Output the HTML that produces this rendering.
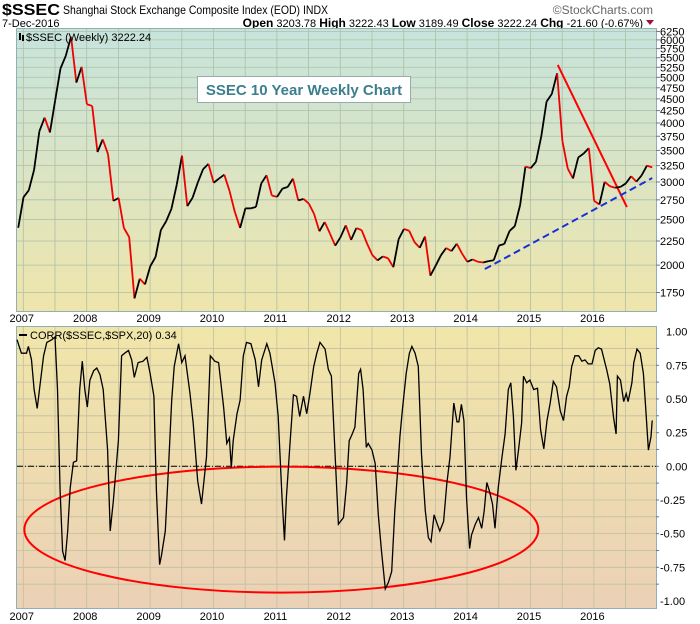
<!DOCTYPE html>
<html><head><meta charset="utf-8"><style>
body{margin:0;background:#fff;}
svg{display:block;font-family:"Liberation Sans",sans-serif;}
</style></head><body>
<svg id="chart" width="700" height="624" viewBox="0 0 700 624">
<defs>
<linearGradient id="gTop" x1="0" y1="0" x2="0" y2="1"><stop offset="0" stop-color="#c6e4dd"/><stop offset="1" stop-color="#efe5ab"/></linearGradient>
<linearGradient id="gBot" x1="0" y1="0" x2="0" y2="1"><stop offset="0" stop-color="#f0e6a9"/><stop offset="1" stop-color="#ebd1b6"/></linearGradient>
</defs>
<g>
<text x="2" y="15" font-size="16" font-weight="bold" textLength="58" lengthAdjust="spacingAndGlyphs">$SSEC</text>
<text x="63" y="14" font-size="12" textLength="265" lengthAdjust="spacingAndGlyphs">Shanghai Stock Exchange Composite Index (EOD)  INDX</text>
<text x="653" y="14" font-size="12" fill="#666" text-anchor="end">©StockCharts.com</text>
<text x="2" y="27" font-size="11">7-Dec-2016</text>
<text x="643" y="27" font-size="11" text-anchor="end"><tspan font-weight="bold" font-size="12">Open</tspan> 3203.78 <tspan font-weight="bold" font-size="12">High</tspan> 3222.43 <tspan font-weight="bold" font-size="12">Low</tspan> 3189.49 <tspan font-weight="bold" font-size="12">Close</tspan> 3222.24 <tspan font-weight="bold" font-size="12">Chg</tspan> -21.60 (-0.67%)</text>
<path d="M646,20 L654,20 L650,25 Z" fill="#a0103a"/>
</g>
<rect x="16.5" y="28.5" width="640" height="283" fill="url(#gTop)" stroke="#8fb0b8"/>
<rect x="16.5" y="326.5" width="640" height="282" fill="url(#gBot)" stroke="#8fb0b8"/>
<g id="grid"></g>
<g id="axes"></g>
<g id="annot"></g>
<g id="series"></g>
<g>
<rect x="19" y="33" width="2" height="7" fill="#000"/><rect x="22" y="35" width="2" height="6" fill="#000"/>
<text x="26" y="41" font-size="11">$SSEC (Weekly) 3222.24</text>
</g>
<g>
<rect x="19" y="334" width="8" height="2" fill="#000"/>
<text x="30" y="339" font-size="11">CORR($SSEC,$SPX,20) 0.34</text>
</g>
<g>
<rect x="197.5" y="76.5" width="213" height="26" fill="#fff" stroke="#9aa"/>
<text x="304" y="95" font-size="15" font-weight="bold" fill="#3b7f8e" text-anchor="middle">SSEC 10 Year Weekly Chart</text>
</g>
</svg>
<script>
const years = [2007,2008,2009,2010,2011,2012,2013,2014,2015,2016];
const priceTicks = [1750,2000,2250,2500,2750,3000,3250,3500,3750,4000,4250,4500,4750,5000,5250,5500,5750,6000,6250];
const corrTicks = [1.00,0.75,0.50,0.25,0.00,-0.25,-0.50,-0.75,-1.00];
const priceStart = 2006.92;
const priceCloses = [2400,
2786,2881,3183,3841,4109,3820,4471,5218,5552,6092,4871,5261,
4383,4348,3472,3693,3433,2736,2775,2397,2293,1700,1871,1821,
1990,2082,2373,2477,2632,2959,3412,2667,2779,2995,3195,3277,
2989,3051,3109,2870,2592,2398,2638,2638,2656,2979,3100,2808,
2790,2905,2928,3050,2743,2762,2701,2567,2359,2468,2333,2199,
2292,2428,2262,2396,2372,2225,2103,2047,2086,2068,1980,2269,
2385,2365,2237,2177,2300,1900,1993,2098,2174,2141,2220,2116,
2033,2056,2033,2026,2039,2048,2201,2217,2363,2420,2683,3234,
3210,3310,3748,4441,4611,5100,3663,3205,3052,3382,3445,3539,
2737,2688,3003,2938,2917,2930,2979,3085,3005,3100,3250,3222];
const corrDates = [2006.90,2006.97,2007.05,2007.08,2007.13,2007.17,2007.22,2007.26,2007.32,2007.37,2007.45,2007.50,2007.54,2007.58,2007.62,2007.66,2007.70,2007.74,2007.79,2007.84,2007.89,2007.93,2007.97,2008.01,2008.05,2008.11,2008.16,2008.21,2008.26,2008.33,2008.37,2008.42,2008.50,2008.55,2008.60,2008.66,2008.71,2008.75,2008.81,2008.89,2008.95,2009.00,2009.06,2009.10,2009.15,2009.18,2009.24,2009.29,2009.34,2009.38,2009.45,2009.50,2009.55,2009.63,2009.68,2009.75,2009.81,2009.89,2009.95,2010.02,2010.08,2010.16,2010.21,2010.25,2010.28,2010.31,2010.37,2010.42,2010.47,2010.52,2010.59,2010.66,2010.71,2010.76,2010.84,2010.89,2010.97,2011.02,2011.08,2011.12,2011.15,2011.21,2011.26,2011.31,2011.36,2011.42,2011.47,2011.52,2011.58,2011.63,2011.68,2011.76,2011.81,2011.86,2011.92,2011.97,
2012.05,2012.10,2012.14,2012.18,2012.23,2012.29,2012.32,2012.36,2012.41,2012.44,2012.50,2012.55,2012.60,2012.65,2012.71,2012.76,2012.81,2012.86,2012.92,2012.94,2012.98,2013.04,2013.09,2013.13,2013.18,2013.23,2013.28,2013.34,2013.39,2013.43,2013.48,2013.53,2013.57,2013.63,2013.68,2013.73,2013.79,2013.84,2013.87,2013.91,2013.95,2013.99,2014.04,2014.07,2014.13,2014.18,2014.23,2014.27,2014.31,2014.35,2014.40,2014.44,2014.49,2014.55,2014.60,2014.65,2014.69,2014.73,2014.77,2014.81,2014.86,2014.89,2014.94,2014.99,2015.05,2015.11,2015.16,2015.21,2015.26,2015.31,2015.36,2015.41,2015.47,2015.52,2015.57,2015.61,2015.65,2015.70,2015.76,2015.81,2015.86,2015.91,2015.97,2016.02,2016.07,2016.12,2016.20,2016.25,2016.31,2016.35,2016.37,2016.42,2016.47,2016.51,2016.54,2016.60,2016.63,2016.68,2016.73,2016.78,2016.82,2016.86,2016.90,2016.92];
const corrValues = [0.94,0.84,0.84,0.89,0.79,0.57,0.43,0.59,0.82,0.92,0.94,0.96,0.57,-0.18,-0.63,-0.70,-0.48,-0.16,0.03,0.04,0.57,0.78,0.57,0.44,0.64,0.71,0.73,0.68,0.57,0.12,-0.48,-0.26,0.19,0.82,0.84,0.86,0.79,0.66,0.77,0.78,0.81,0.69,0.52,-0.18,-0.73,-0.66,-0.48,-0.01,0.49,0.74,0.91,0.77,0.82,0.54,0.32,-0.11,-0.28,0.07,0.82,0.78,0.77,0.44,0.17,0.21,-0.01,0.19,0.39,0.49,0.82,0.92,0.91,0.79,0.59,0.79,0.91,0.84,0.62,0.37,-0.23,-0.55,-0.23,0.19,0.53,0.52,0.37,0.52,0.39,0.54,0.74,0.84,0.92,0.87,0.72,0.67,0.07,-0.43,
-0.38,-0.13,0.19,0.23,0.29,0.69,0.72,0.57,0.14,0.17,0.12,0.02,-0.36,-0.63,-0.91,-0.86,-0.78,-0.33,0.07,0.22,0.42,0.69,0.84,0.89,0.84,0.74,0.09,-0.33,-0.53,-0.56,-0.36,-0.43,-0.48,-0.41,-0.13,0.07,0.47,0.33,0.33,0.46,0.34,-0.23,-0.61,-0.51,-0.43,-0.38,-0.46,-0.33,-0.12,-0.18,-0.28,-0.46,-0.16,0.07,0.24,0.57,0.62,0.37,-0.03,0.12,0.32,0.67,0.62,0.64,0.57,0.58,0.27,0.13,0.34,0.47,0.63,0.59,0.41,0.34,0.52,0.59,0.74,0.82,0.82,0.78,0.79,0.76,0.76,0.86,0.88,0.87,0.72,0.61,0.36,0.24,0.67,0.64,0.48,0.54,0.48,0.62,0.77,0.87,0.84,0.69,0.41,0.12,0.22,0.34];
const redTrend = [[2015.43,5310],[2016.52,2655]];
const blueTrend = [[2014.28,1962],[2016.92,3059]];
const corrEllipse = {t:2011.07, v:-0.47};

const NS='http://www.w3.org/2000/svg';
function xT(t){return 86.7+(t-2008)*63.4;}
function yP(p){return 182-205*Math.log(p/3000);}
function yC(v){return 466.3-134.7*v;}
function mk(tag,attrs,parent){const e=document.createElementNS(NS,tag);for(const k in attrs)e.setAttribute(k,attrs[k]);parent.appendChild(e);return e;}
const grid=document.getElementById('grid'),axes=document.getElementById('axes'),annot=document.getElementById('annot'),series=document.getElementById('series');

for(let t=2007;t<=2016.6;t+=0.5){
  const x=xT(t);
  let l=mk('line',{x1:x,x2:x,y1:29,y2:311,stroke:'#aebfa6','stroke-width':0.8},grid);
  
  
  l=mk('line',{x1:x,x2:x,y1:327,y2:608,stroke:'#c2bfa0','stroke-width':0.8},grid);
  
  
}
priceTicks.forEach(p=>{
  const y=yP(p);
  const l=mk('line',{x1:17,x2:656,y1:y,y2:y,stroke:'#aebfa6','stroke-width':0.8},grid);
  
  
  mk('line',{x1:656,x2:660,y1:y,y2:y,stroke:'#777'},axes);
  const tx=mk('text',{x:660,y:y+4,'font-size':11},axes);
  tx.textContent=p;
  
  
});
for(let v=-0.875;v<1;v+=0.125){
  const y=yC(v);
  const l=mk('line',{x1:17,x2:656,y1:y,y2:y,stroke:'#c2bfa0','stroke-width':0.8},grid);
  
  
  mk('line',{x1:656,x2:659,y1:y,y2:y,stroke:'#777'},axes);
}
corrTicks.forEach(v=>{
  const y=yC(v);
  const tx=mk('text',{x:660,y:y+4,'font-size':11},axes);
  tx.textContent=(v<0?'-':'')+Math.abs(v).toFixed(2);
  if(v>=0)tx.setAttribute('x',666);
  
  
});
years.forEach(yr=>{
  const x=Math.max(18,xT(yr)-1.5);
  [318,616].forEach(yy=>{
    const tx=mk('text',{x:x,y:yy+4,'font-size':11,'text-anchor':'middle'},axes);
    tx.textContent=yr;
    
    
  });
});
const z=mk('line',{x1:17,x2:656,y1:yC(0),y2:yC(0),stroke:'#000','stroke-dasharray':'6,2,1,2','stroke-width':1},annot);



for(let i=1;i<priceCloses.length;i++){
  const t0=priceStart+(i-1)/12,t1=priceStart+i/12;
  const s=mk('line',{x1:xT(t0),y1:yP(priceCloses[i-1]),x2:xT(t1),y2:yP(priceCloses[i]),stroke:priceCloses[i]<priceCloses[i-1]?'#e00':'#000','stroke-width':1.8},series);
  
  
}
const cp=mk('polyline',{points:corrDates.map((t,i)=>xT(t).toFixed(1)+','+yC(corrValues[i]).toFixed(1)).join(' '),fill:'none',stroke:'#000','stroke-width':1.3},series);


const rt=mk('line',{x1:xT(redTrend[0][0]),y1:yP(redTrend[0][1]),x2:xT(redTrend[1][0]),y2:yP(redTrend[1][1]),stroke:'#f00','stroke-width':2},annot);


const bt=mk('line',{x1:xT(blueTrend[0][0]),y1:yP(blueTrend[0][1]),x2:xT(blueTrend[1][0]),y2:yP(blueTrend[1][1]),stroke:'#1a2fd8','stroke-width':2,'stroke-dasharray':'7,4'},annot);


const el=mk('ellipse',{cx:xT(corrEllipse.t),cy:yC(corrEllipse.v),rx:257,ry:63,fill:'none',stroke:'#f00','stroke-width':2},annot);


</script>
</body></html>
